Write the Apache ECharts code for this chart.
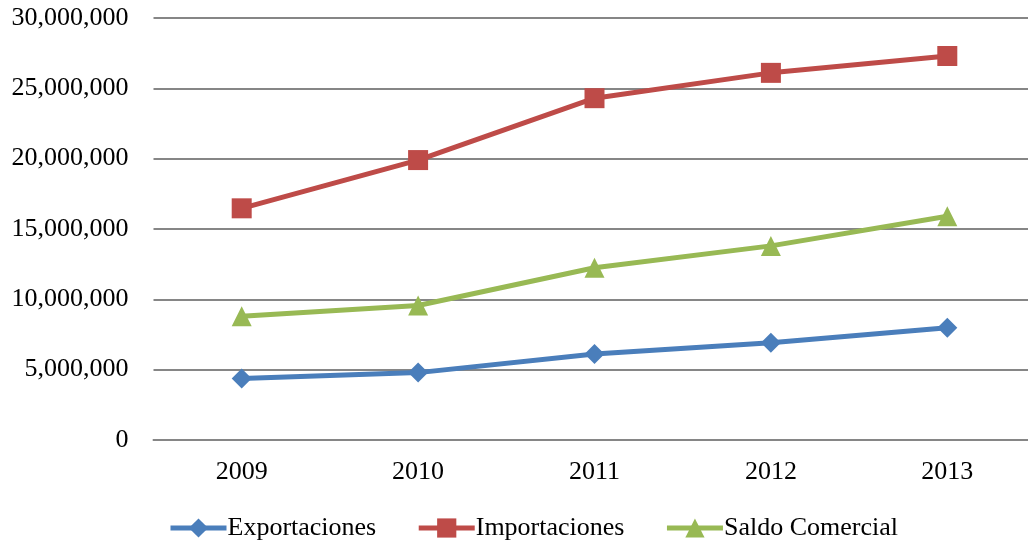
<!DOCTYPE html>
<html>
<head>
<meta charset="utf-8">
<script src="https://cdn.jsdelivr.net/npm/echarts@6/dist/echarts.min.js"></script>
<style>
  html, body { margin: 0; padding: 0; background: #fff; }
  #chart { width: 1028px; height: 544px; }
</style>
</head>
<body>
<div id="chart"></div>
<script>
const years = ['2009', '2010', '2011', '2012', '2013'];
const exportaciones = [4380000, 4790000, 6110000, 6920000, 7980000];
const importaciones = [16470000, 19900000, 24300000, 26100000, 27300000];
const saldoComercial = [8800000, 9560000, 12250000, 13800000, 15900000];

const font = '"Liberation Serif", "Times New Roman", serif';
const chart = echarts.init(document.getElementById('chart'));

const lineSeries = (name, data, color, symbol) => ({
  name,
  type: 'line',
  data,
  symbol,
  symbolSize: 20,
  lineStyle: { color, width: 5 },
  itemStyle: { color },
  emphasis: { disabled: true }
});

chart.setOption({
  animation: false,
  grid: { left: 153.5, width: 882, top: 18, bottom: 104, outerBoundsMode: 'none', containLabel: false },
  legend: {
    left: 163,
    bottom: -2,
    itemWidth: 56,
    itemHeight: 24,
    itemGap: 40,
    lineStyle: { width: 5 },
    textStyle: { fontFamily: font, fontSize: 26, color: '#000', padding: [0, 0, 0, -4] },
    data: ['Exportaciones', 'Importaciones', 'Saldo Comercial']
  },
  xAxis: {
    type: 'category',
    data: years,
    boundaryGap: true,
    axisLine: { lineStyle: { color: '#868686', width: 2 } },
    axisTick: { show: false },
    axisLabel: { fontFamily: font, fontSize: 26, color: '#000', margin: 19 }
  },
  yAxis: {
    type: 'value',
    min: 0,
    max: 30000000,
    interval: 5000000,
    axisLine: { show: false },
    axisTick: { show: false },
    axisLabel: {
      fontFamily: font, fontSize: 26, color: '#000', margin: 25,
      formatter: v => v.toLocaleString('en-US')
    },
    splitLine: { lineStyle: { color: '#868686', width: 2 } }
  },
  series: [
    lineSeries('Exportaciones', exportaciones, '#4A7EBB', 'diamond'),
    lineSeries('Importaciones', importaciones, '#BE4B48', 'rect'),
    lineSeries('Saldo Comercial', saldoComercial, '#98B954', 'triangle')
  ]
});
</script>
</body>
</html>
